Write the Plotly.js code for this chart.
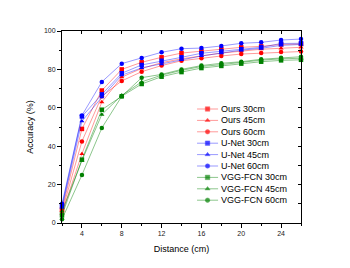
<!DOCTYPE html>
<html>
<head>
<meta charset="utf-8">
<script src="https://cdn.plot.ly/plotly-3.0.1.min.js"></script>
<style>html,body{margin:0;padding:0;background:#fff;}#chart{width:350px;height:268px;}</style>
</head>
<body>
<div id="chart"></div>
<script>
const distance = [2, 4, 6, 8, 10, 12, 14, 16, 18, 20, 22, 24, 26];
const ours30 = [7, 49, 69, 80, 83.7, 86.3, 88.5, 89.5, 90.5, 91.5, 92, 93, 93.2];
const ours45 = [5, 36, 63, 76, 80.5, 83.5, 85.5, 87, 88.5, 89.5, 90.5, 91, 91.5];
const ours60 = [6, 42.5, 66, 74, 78.8, 82, 84.5, 85.8, 87, 88, 88.5, 89, 89.3];
const unet30 = [9, 55.5, 67, 78, 82.3, 84.5, 86.3, 88.4, 89.5, 90.5, 91.5, 93.5, 93.6];
const unet45 = [8, 53, 65.5, 77, 80.8, 82.8, 85, 87, 88.5, 90, 91, 92.5, 93];
const unet60 = [10, 56, 73.5, 83, 86, 88.9, 90.8, 91.1, 92.2, 93.6, 94.1, 95.3, 95.8];
const vgg30 = [4, 33, 59, 66, 72.4, 76.2, 78.6, 80.7, 81.8, 83, 84, 84.7, 85];
const vgg45 = [6, 32.5, 56.5, 66.5, 73.5, 77, 79.5, 81.5, 82.5, 83.8, 84.8, 85.5, 85.8];
const vgg60 = [2, 25, 49.5, 66, 75.7, 77.4, 80, 82, 83.2, 84, 85.3, 86.1, 86.6];
const seriesNames = ['Ours 30cm','Ours 45cm','Ours 60cm','U-Net 30cm','U-Net 45cm','U-Net 60cm','VGG-FCN 30cm','VGG-FCN 45cm','VGG-FCN 60cm'];
const seriesValues = [ours30, ours45, ours60, unet30, unet45, unet60, vgg30, vgg45, vgg60];
const xTickVals = [4, 8, 12, 16, 20, 24];
const yTickVals = [0, 20, 40, 60, 80, 100];

const solid = {red:'#ff0000', blue:'#0000ff', green:'#008000'};
const light = {red:'rgba(255,0,0,0.4)', blue:'rgba(0,0,255,0.4)', green:'rgba(0,128,0,0.45)'};
const colorKey = ['red','red','red','blue','blue','blue','green','green','green'];
const symbols = ['square','triangle-up','circle','square','triangle-up','circle','square','triangle-up','circle'];

const traces = [];
seriesValues.forEach((vals, i) => {
  traces.push({
    x: distance, y: vals, name: seriesNames[i], type: 'scatter', mode: 'lines+markers',
    line: {color: light[colorKey[i]], width: 1},
    marker: {color: solid[colorKey[i]], symbol: symbols[i], size: 4.5},
    cliponaxis: false, showlegend: false, hoverinfo: 'skip'
  });
});
// dummy for mirrored axes
traces.push({x:[2], y:[0], xaxis:'x2', yaxis:'y2', mode:'markers', marker:{opacity:0}, showlegend:false, hoverinfo:'skip'});

// custom compact legend
const annotations = [];
const lx0 = 0.565, lx1 = 0.653, lxm = 0.609, ltx = 0.657;
seriesNames.forEach((nm, i) => {
  const yr = (223 - (109 + i * 11.4)) / 192;
  traces.push({
    x:[lx0, lxm, lx1], y:[yr, yr, yr], xaxis:'x3', yaxis:'y3', mode:'lines+markers',
    line:{color: light[colorKey[i]], width: 1},
    marker:{color: solid[colorKey[i]], symbol: symbols[i], size:[0, 4.5, 0]},
    showlegend:false, hoverinfo:'skip', cliponaxis:false
  });
  annotations.push({
    xref:'x3', yref:'y3', x: ltx, y: yr, xanchor:'left', yanchor:'middle',
    text: nm, showarrow:false, font:{family:'Liberation Sans, Arial, sans-serif', size:9, color:'#000'}
  });
});

const fnt = {family:'Liberation Sans, Arial, sans-serif', size:7, color:'#222'};
const layout = {
  width: 350, height: 268,
  margin: {l:62, r:49, t:31, b:45},
  paper_bgcolor:'#fff', plot_bgcolor:'#fff',
  showlegend:false,
  font: fnt,
  xaxis: {
    range:[2, 26], tickvals: xTickVals, ticks:'outside', ticklen:4, tickwidth:1, tickcolor:'#000',
    minor:{dtick:2, tick0:2, ticks:'outside', ticklen:2, tickcolor:'#000'},
    showline:true, linecolor:'#000', linewidth:1, showgrid:false, zeroline:false,
    tickfont: fnt,
    title:{text:'Distance (cm)', font:{family:'Liberation Sans, Arial, sans-serif', size:9, color:'#000'}, standoff:9}
  },
  yaxis: {
    range:[0, 100], tickvals: yTickVals, ticks:'outside', ticklen:4, tickwidth:1, tickcolor:'#000',
    minor:{dtick:10, ticks:'outside', ticklen:2, tickcolor:'#000'},
    showline:true, linecolor:'#000', linewidth:1, showgrid:false, zeroline:false,
    tickfont: fnt,
    title:{text:'Accuracy (%)', font:{family:'Liberation Sans, Arial, sans-serif', size:9, color:'#000'}, standoff:8}
  },
  xaxis2: {overlaying:'x', side:'top', anchor:'y', range:[2,26], dtick:2, tick0:2, ticks:'inside', ticklen:3, tickcolor:'#000',
    showticklabels:false, showline:true, linecolor:'#000', linewidth:1, showgrid:false, zeroline:false},
  yaxis2: {overlaying:'y', side:'right', anchor:'x', range:[0,100], dtick:10, ticks:'inside', ticklen:3, tickcolor:'#000',
    showticklabels:false, showline:true, linecolor:'#000', linewidth:1, showgrid:false, zeroline:false},
  xaxis3: {overlaying:'x', range:[0,1], visible:false},
  yaxis3: {overlaying:'y', range:[0,1], visible:false},
  annotations: annotations
};
Plotly.newPlot('chart', traces, layout, {staticPlot:true, displayModeBar:false});
</script>
</body>
</html>
